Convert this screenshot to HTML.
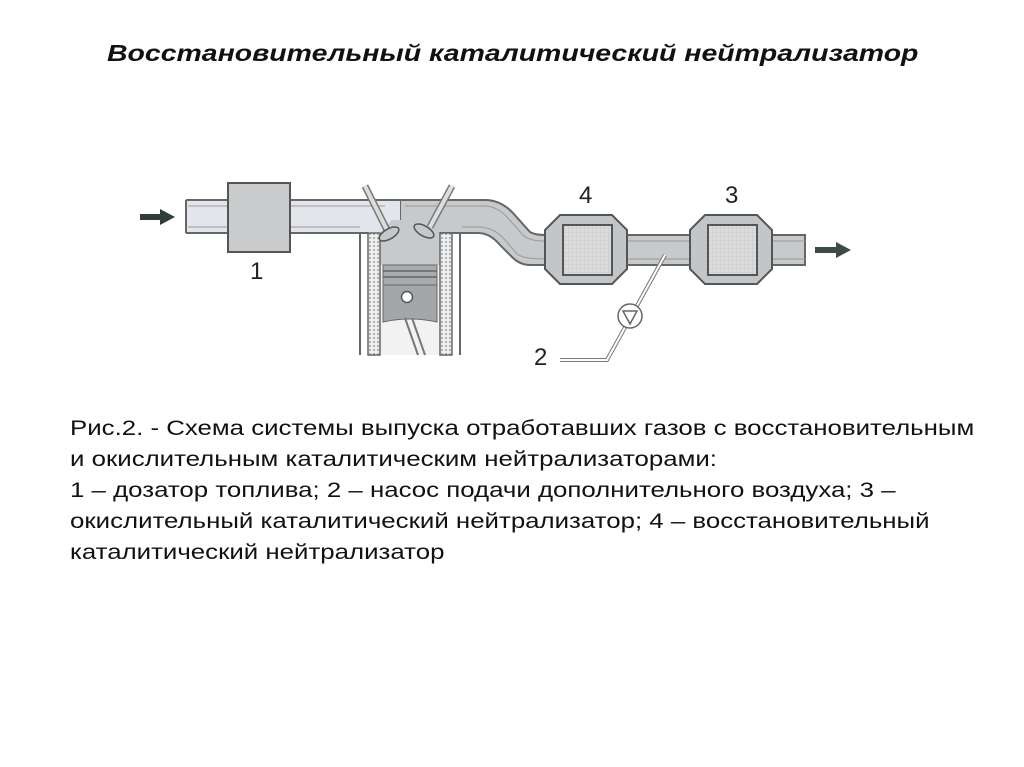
<!DOCTYPE html>
<html><head><meta charset="utf-8"><style>
html,body{margin:0;padding:0;background:#fff;width:1024px;height:767px;overflow:hidden;position:relative;font-family:"Liberation Sans",sans-serif}
#t{position:absolute;left:107px;top:40px;font-weight:bold;font-style:italic;font-size:23px;color:#111;white-space:nowrap;transform:scaleX(1.236);transform-origin:0 0}
#c{position:absolute;left:70px;top:413px;font-size:21px;line-height:31px;color:#111;white-space:nowrap;transform:scaleX(1.23);transform-origin:0 0}
svg{position:absolute;left:0;top:0}
</style></head><body>
<div id="t">Восстановительный каталитический нейтрализатор</div>
<svg width="1024" height="767" viewBox="0 0 1024 767">
<defs>
<pattern id="g" width="4" height="4" patternUnits="userSpaceOnUse"><rect width="4" height="4" fill="#dcdcdc"/><path d="M0 0H4M0 0V4" stroke="#bbb" stroke-width="0.6"/></pattern>
<pattern id="h" width="4" height="4" patternUnits="userSpaceOnUse"><rect width="4" height="4" fill="#eee"/><circle cx="2" cy="2" r="0.9" fill="#888"/></pattern>
</defs>
<path d="M140 217H162" stroke="#2f3f38" stroke-width="6"/><path d="M160 209L175 217L160 225Z" fill="#2f3f38"/>
<path d="M815 250H838" stroke="#3f4a44" stroke-width="6"/><path d="M836 242L851 250L836 258Z" fill="#3f4a44"/>
<!-- exhaust pipe (behind) -->
<path d="M400 200H485Q500 200 512 212L530 232Q535 235 545 235V265H530Q520 265 512 257L500 245Q490 233 478 233H400Z" fill="#c7cacc" stroke="#666" stroke-width="2"/>
<path d="M405 206H484Q496 206 506 216L524 236Q530 241 545 241M462 227H478Q494 227 505 240L517 254Q524 259 545 259" fill="none" stroke="#999" stroke-width="1"/>
<!-- intake pipe -->
<path d="M186 200H400V233H186Z" fill="#e2e6ea"/>
<path d="M186 200H410M186 233H360" stroke="#666" stroke-width="2"/>
<path d="M188 206H385M188 227H360" stroke="#999" stroke-width="1"/>
<path d="M186 200V233" stroke="#666" stroke-width="2"/>
<rect x="228" y="183" width="62" height="69" fill="#c9cbcd" stroke="#555" stroke-width="2"/>
<rect x="620" y="235" width="75" height="30" fill="#c7cacc" stroke="#666" stroke-width="2"/>
<rect x="765" y="235" width="40" height="30" fill="#c7cacc" stroke="#666" stroke-width="2"/>
<path d="M628 241H692M628 259H692M770 241H805M770 259H805" stroke="#999" stroke-width="1"/>
<polygon points="560,215 612,215 627,230 627,269 612,284 560,284 545,269 545,230" fill="#c3c6c8" stroke="#555" stroke-width="2"/>
<rect x="563" y="225" width="49" height="50" fill="url(#g)" stroke="#555" stroke-width="2"/>
<polygon points="705,215 757,215 772,230 772,269 757,284 705,284 690,269 690,230" fill="#c3c6c8" stroke="#555" stroke-width="2"/>
<rect x="708" y="225" width="49" height="50" fill="url(#g)" stroke="#555" stroke-width="2"/>
<!-- cylinder -->
<rect x="380" y="233" width="60" height="122" fill="#f2f2f2"/>
<path d="M380 233L392 220H428L440 233V265H380Z" fill="#c7cacc"/>
<rect x="368" y="233" width="12" height="122" fill="url(#h)" stroke="#666" stroke-width="1.5"/>
<rect x="440" y="233" width="12" height="122" fill="url(#h)" stroke="#666" stroke-width="1.5"/>
<path d="M360 233V355M460 233V355M360 233H368M452 233H462" stroke="#666" stroke-width="2"/>
<rect x="383" y="265" width="54" height="20" fill="#a9acae" stroke="#666" stroke-width="1"/>
<path d="M383 271H437M383 277H437" stroke="#666" stroke-width="1.5"/>
<path d="M383 285H437V322Q410 316 383 322Z" fill="#a4a7a9" stroke="#666" stroke-width="1"/>
<circle cx="407" cy="297" r="5.5" fill="#fff" stroke="#555" stroke-width="1.5"/>
<path d="M405 318L418 355M412 318L425 355" stroke="#777" stroke-width="2"/>
<path d="M365 186L388 232" stroke="#777" stroke-width="7"/><path d="M365 186L388 232" stroke="#ddd" stroke-width="4"/>
<ellipse cx="389" cy="234" rx="11" ry="5" transform="rotate(-30 389 234)" fill="#c5c8ca" stroke="#555" stroke-width="1.5"/>
<path d="M452 186L430 227" stroke="#777" stroke-width="7"/><path d="M452 186L430 227" stroke="#ddd" stroke-width="4"/>
<ellipse cx="424" cy="231" rx="11" ry="5" transform="rotate(30 424 231)" fill="#c5c8ca" stroke="#555" stroke-width="1.5"/>
<path d="M665 255L607 360H560" fill="none" stroke="#777" stroke-width="4"/>
<path d="M665 255L607 360H560" fill="none" stroke="#fff" stroke-width="2"/>
<circle cx="630" cy="316" r="12" fill="#fff" stroke="#666" stroke-width="1.5"/>
<path d="M623 311H637L630 324Z" fill="none" stroke="#666" stroke-width="1.5"/>
<g font-family="Liberation Sans,sans-serif" font-size="24" fill="#222">
<text x="250" y="279">1</text><text x="534" y="365">2</text><text x="725" y="203">3</text><text x="579" y="203">4</text>
</g>
</svg>
<div id="c">Рис.2. - Схема системы выпуска отработавших газов с восстановительным<br>и окислительным каталитическим нейтрализаторами:<br>1 – дозатор топлива; 2 – насос подачи дополнительного воздуха; 3 –<br>окислительный каталитический нейтрализатор; 4 – восстановительный<br>каталитический нейтрализатор</div>
</body></html>
